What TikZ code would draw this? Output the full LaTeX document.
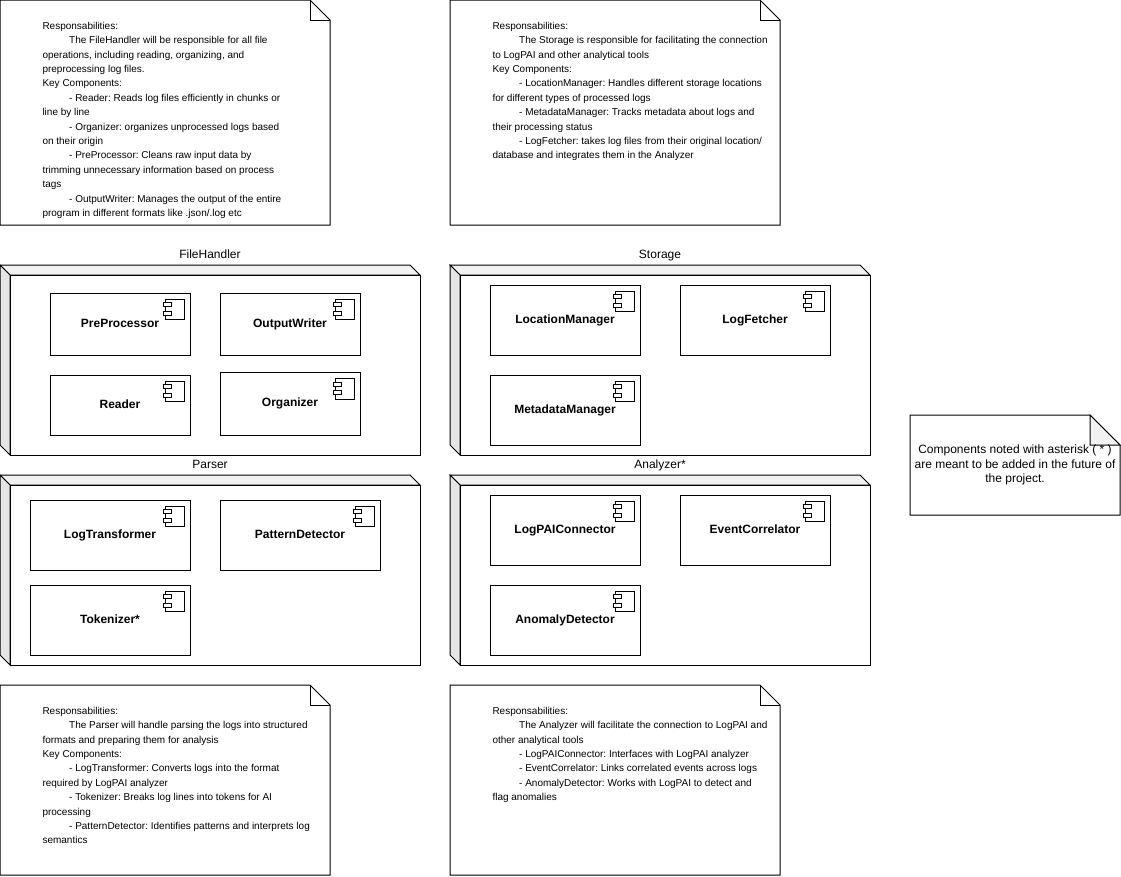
\documentclass[tikz,border=0pt]{standalone}
\usepackage{fontspec}
\setmainfont{Liberation Sans}
\usetikzlibrary{positioning}

\newcommand{\tabin}{\hspace*{20pt}}
\frenchspacing

\begin{document}
\begin{tikzpicture}[x=0.75pt, y=-0.75pt, line width=0.75pt, every node/.style={inner sep=0pt}]
	\tikzstyle{notetext}=[anchor=north west, align=left, font=\fontsize{7.5}{10.8}\selectfont]
	\tikzstyle{boxtitle}=[font=\fontsize{9}{10.8}\selectfont, text height=7pt, text depth=1pt]
	\tikzstyle{component}=[draw=black, fill=white, font=\bfseries\fontsize{9}{10.8}\selectfont, text height=6.5pt, text depth=2pt]
	\tikzstyle{wide}=[minimum width=105pt]
	\tikzstyle{wider}=[minimum width=112.5pt]
	\tikzstyle{widest}=[minimum width=120pt]

	\useasboundingbox (0,0) rectangle (1121,876);

	% notes
	\foreach \nx/\ny/\nw/\nh in {0/0/330/225, 450/0/330/225, 0/685/330/190, 450/685/330/190} {
		\draw [fill=white] (\nx,\ny) -- ++(\nw-20,0) -- ++(20,20) -- ++(0,\nh-20) -- ++(-\nw,0) -- cycle;
		\draw (\nx+\nw-20,\ny) -- ++(0,20) -- ++(20,0);
	}
	\draw [fill=white] (910,415) -- (1090,415) -- (1120,445) -- (1120,515) -- (910,515) -- cycle;
	\draw [fill=black!5] (1090,415) -- (1120,445) -- (1090,445) -- cycle;

	\node (fileNote) at (42,21.5) [notetext] {Responsabilities:\\
		\tabin The FileHandler will be responsible for all file\\
		operations, including reading, organizing, and\\
		preprocessing log files.\\
		Key Components:\\
		\tabin - Reader: Reads log files efficiently in chunks or\\
		line by line\\
		\tabin - Organizer: organizes unprocessed logs based\\
		on their origin\\
		\tabin - PreProcessor: Cleans raw input data by\\
		trimming unnecessary information based on process\\
		tags\\
		\tabin - OutputWriter: Manages the output of the entire\\
		program in different formats like .json/.log etc};
	\node (storageNote) at (492,21.5) [notetext] {Responsabilities:\\
		\tabin The Storage is responsible for facilitating the connection\\
		to LogPAI and other analytical tools\\
		Key Components:\\
		\tabin - LocationManager: Handles different storage locations\\
		for different types of processed logs\\
		\tabin - MetadataManager: Tracks metadata about logs and\\
		their processing status\\
		\tabin - LogFetcher: takes log files from their original location/\\
		database and integrates them in the Analyzer};
	\node (parserNote) at (42,706.5) [notetext] {Responsabilities:\\
		\tabin The Parser will handle parsing the logs into structured\\
		formats and preparing them for analysis\\
		Key Components:\\
		\tabin - LogTransformer: Converts logs into the format\\
		required by LogPAI analyzer\\
		\tabin - Tokenizer: Breaks log lines into tokens for AI\\
		processing\\
		\tabin - PatternDetector: Identifies patterns and interprets log\\
		semantics};
	\node (analyzerNote) at (492,706.5) [notetext] {Responsabilities:\\
		\tabin The Analyzer will facilitate the connection to LogPAI and\\
		other analytical tools\\
		\tabin - LogPAIConnector: Interfaces with LogPAI analyzer\\
		\tabin - EventCorrelator: Links correlated events across logs\\
		\tabin - AnomalyDetector: Works with LogPAI to detect and\\
		flag anomalies};
	\node (futureNote) at (1015,465) [align=center, font=\fontsize{9}{10.8}\selectfont] {Components noted with asterisk ( * )\\are meant to be added in the future of\\the project.};

	% boxes
	\foreach \bx/\by in {0/265, 450/265, 0/475, 450/475} {
		\draw [fill=black!5] (\bx,\by) -- ++(410,0) -- ++(10,10) -- ++(-410,0) -- cycle;
		\draw [fill=black!10] (\bx,\by) -- ++(10,10) -- ++(0,180) -- ++(-10,-10) -- cycle;
		\draw [fill=white] (\bx+10,\by+10) rectangle ++(410,180);
	}

	\node (fileTitle) at (210,254) [boxtitle] {FileHandler};
	\node (storageTitle) at (660,254) [boxtitle] {Storage};
	\node (parserTitle) at (210,464) [boxtitle] {Parser};
	\node (analyzerTitle) at (660,464) [boxtitle] {Analyzer*};

	% components
	\node (preProcessor) at (120,324) [component, wide, minimum height=46.5pt] {PreProcessor};
	\node (outputWriter) at (290,324) [component, wide, minimum height=46.5pt] {OutputWriter};
	\node (reader) at (120,405) [component, wide, minimum height=45pt] {Reader};
	\node (organizer) at (290,403.75) [component, wide, minimum height=46.875pt] {Organizer};

	\node (locationManager) at (565,320) [component, wider, minimum height=52.5pt] {LocationManager};
	\node (logFetcher) at (755,320) [component, wider, minimum height=52.5pt] {LogFetcher};
	\node (metadataManager) at (565,410) [component, wider, minimum height=52.5pt] {MetadataManager};

	\node (logTransformer) at (110,535) [component, widest, minimum height=52.5pt] {LogTransformer};
	\node (patternDetector) at (300,535) [component, widest, minimum height=52.5pt] {PatternDetector};
	\node (tokenizer) at (110,620) [component, widest, minimum height=52.5pt] {Tokenizer*};

	\node (logPAIConnector) at (565,530) [component, wider, minimum height=52.5pt] {LogPAIConnector};
	\node (eventCorrelator) at (755,530) [component, wider, minimum height=52.5pt] {EventCorrelator};
	\node (anomalyDetector) at (565,620) [component, wider, minimum height=52.5pt] {AnomalyDetector};

	\foreach \comp in {preProcessor, outputWriter, reader, organizer, locationManager, logFetcher, metadataManager, logTransformer, patternDetector, tokenizer, logPAIConnector, eventCorrelator, anomalyDetector} {
		\begin{scope}[shift={(\comp.north east)}]
			\draw [fill=white] (-25.5,6.5) rectangle (-6.5,27);
			\draw [fill=white] (-27.5,10) rectangle (-19.5,14);
			\draw [fill=white] (-27.5,18.5) rectangle (-19.5,22.5);
		\end{scope}
	}
\end{tikzpicture}
\end{document}
